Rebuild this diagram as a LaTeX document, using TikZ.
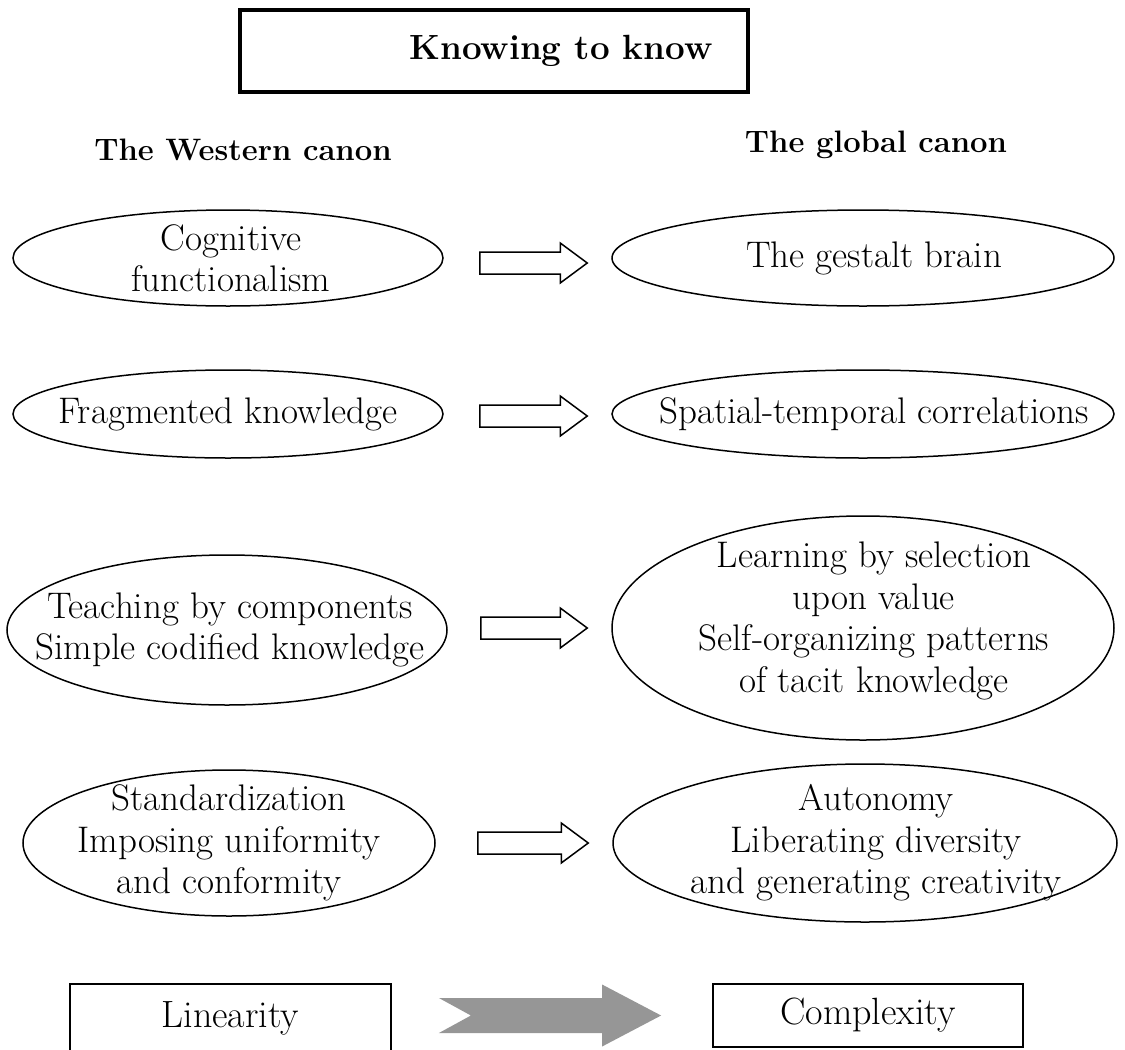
\documentclass[tikz,border=0pt]{standalone}
\usepackage{fontspec}
\usetikzlibrary{calc,shapes.geometric}
\definecolor{arrowgray}{RGB}{150,150,150}
\begin{document}
\begin{tikzpicture}[x=1pt,y=-1pt,
  bodyfont/.style={font=\fontsize{37}{41.5}\selectfont},
  oval/.style={ellipse, draw, line width=1.5pt, inner sep=0pt},
  intext/.style={align=center, bodyfont, inner sep=0pt},
  rtext/.style={intext, xshift=11},
  box/.style={rectangle, draw, line width=1.8pt, inner sep=0pt, font=\fontsize{38}{44}\selectfont},
  headfont/.style={font=\fontsize{31}{37}\selectfont\bfseries},
  hollowarrow/.style={draw, line width=1.5pt, line join=miter,
    to path={let \p1=(\tikztostart), \p2=(\tikztotarget) in
      (\x1,\y1+11pt) -- (\x2-27pt,\y1+11pt) -- (\x2-27pt,\y1+20pt) -- (\x2,\y1)
      -- (\x2-27pt,\y1-20pt) -- (\x2-27pt,\y1-11pt) -- (\x1,\y1-11pt) -- cycle}},
  grayarrow/.style={fill=arrowgray, draw=none,
    to path={let \p1=(\tikztostart), \p2=(\tikztotarget) in
      (\x1,\y2+17.5pt) -- (\x2-59pt,\y2+17.5pt) -- (\x2-59pt,\y2+31pt) -- (\x2,\y2)
      -- (\x2-59pt,\y2-31pt) -- (\x2-59pt,\y2-17.5pt) -- (\x1,\y2-17.5pt)
      -- (\x1+32pt,\y2) -- cycle}},
]
\useasboundingbox (0,0) rectangle (1125,1050);
\clip (0,0) rectangle (1125,1050);

% title
\node[rectangle, draw, line width=3.5pt, minimum width=508, minimum height=82,
      inner sep=0pt, font=\fontsize{35}{40}\selectfont\bfseries]
      (title) at (494,51) {\hspace*{134pt}Knowing to know};

% column headings
\node[headfont] (wc) at (243,150) {The Western canon};
\node[headfont] (gc) at (876,145) {The global canon};

% row 1
\node[oval, minimum width=430, minimum height=96,
      label={[intext, xshift=3]center:Cognitive\\functionalism}] (w1) at (228,258) {};
\node[oval, minimum width=502, minimum height=96,
      label={[rtext]center:The gestalt brain}] (g1) at (863,258) {};

% row 2
\node[oval, minimum width=430, minimum height=88,
      label={[intext]center:Fragmented knowledge}] (w2) at (228,414) {};
\node[oval, minimum width=502, minimum height=88,
      label={[rtext]center:Spatial-temporal correlations}] (g2) at (863,414) {};

% row 3
\node[oval, minimum width=440, minimum height=150,
      label={[intext, xshift=3]center:Teaching by components\\Simple codified knowledge}] (w3) at (227,630) {};
\node[oval, minimum width=502, minimum height=224,
      label={[rtext, yshift=7]center:Learning by selection\\upon value\\Self-organizing patterns\\of tacit knowledge}] (g3) at (863,628) {};

% row 4
\node[oval, minimum width=412, minimum height=146,
      label={[intext]center:Standardization\\Imposing uniformity\\and conformity}] (w4) at (229,843) {};
\node[oval, minimum width=504, minimum height=158,
      label={[rtext]center:Autonomy\\Liberating diversity\\and generating creativity}] (g4) at (865,843) {};

% hollow arrows
\draw[hollowarrow] ($(w1.east)+(36,5)$) to ($(g1.west)+(-24,5)$);
\draw[hollowarrow] ($(w2.east)+(36,2)$) to ($(g2.west)+(-24,2)$);
\draw[hollowarrow] ($(w3.east)+(33,-2)$) to ($(g3.west)+(-24,0)$);
\draw[hollowarrow] ($(w4.east)+(42,0)$) to ($(g4.west)+(-24,0)$);

% bottom
\node[box, minimum width=321, minimum height=68] (lin) at (230.5,1018) {Linearity};
\node[box, minimum width=310, minimum height=63] (comp) at (868,1015.5) {Complexity};
\draw[grayarrow] ($(lin.east)+(47,0)$) to ($(comp.west)+(-51,0)$);
\end{tikzpicture}
\end{document}
